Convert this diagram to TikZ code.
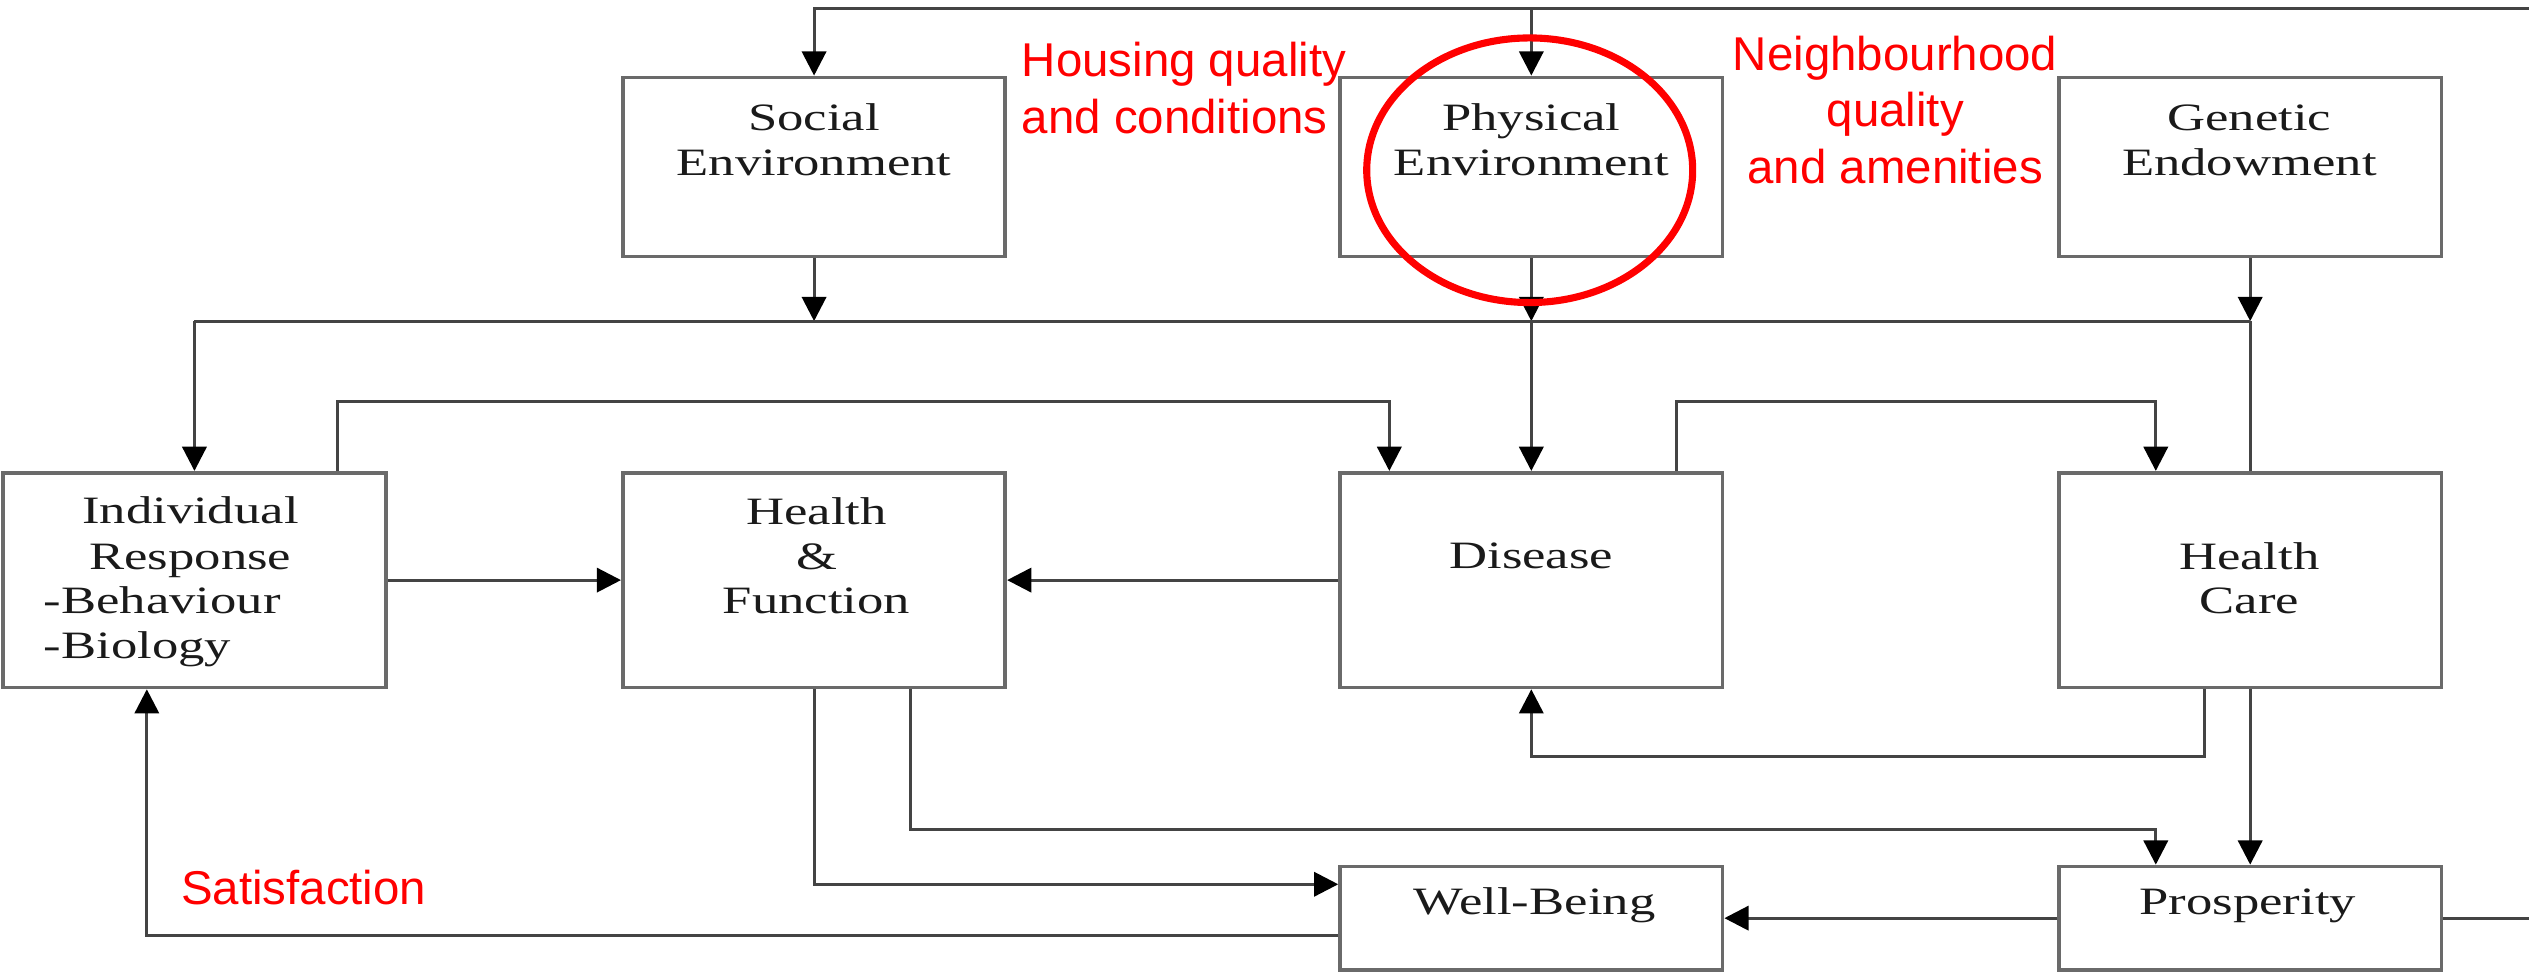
\documentclass[tikz,border=0pt]{standalone}
\usepackage{fontspec}
\usetikzlibrary{arrows.meta,shapes.geometric}
\newfontfamily\boxfont[FakeStretch=1.36]{Liberation Serif}
\newfontfamily\notefont{Liberation Sans}
\definecolor{boxline}{HTML}{6A6A6A}
\definecolor{linkline}{HTML}{444444}
\definecolor{boxtext}{HTML}{1A1A1A}
\definecolor{notered}{HTML}{FF0000}
\tikzset{
  box/.style={draw=boxline, line width=2.3pt, minimum width=237pt, inner sep=0pt},
  conn/.style={draw=linkline, line width=1.9pt},
  arr/.style={conn, -{Triangle[length=15pt,width=15pt,color=black]}},
  lbl/.style={font=\boxfont\fontsize{24}{28}\selectfont, text=boxtext, inner sep=0pt, anchor=base},
  lblL/.style={lbl, anchor=base west},
  note/.style={font=\notefont\fontsize{29.4}{35}\selectfont, text=notered, inner sep=0pt, anchor=base},
  noteL/.style={note, anchor=base west},
  ring/.style={draw=notered, line width=4.4pt, ellipse, minimum width=202pt, minimum height=164pt, inner sep=0pt},
}
\begin{document}
\begin{tikzpicture}[x=1pt,y=-1pt]
\useasboundingbox (0,0) rectangle (1567.3,603);
\fill[white] (0,0) rectangle (1567.3,603);

% determinant boxes
\node[box, minimum height=111pt] (soc) at (504.5,103.5) {};
\node[box, minimum height=111pt] (phy) at (949,103.5) {};
\node[box, minimum height=111pt] (gen) at (1394.5,103.5) {};
\node[box, minimum height=133pt] (ind) at (120.5,359.5) {};
\node[box, minimum height=133pt] (hf) at (504.5,359.5) {};
\node[box, minimum height=133pt] (dis) at (949,359.5) {};
\node[box, minimum height=133pt] (hc) at (1394.5,359.5) {};
\node[box, minimum height=64pt] (wb) at (949,569) {};
\node[box, minimum height=64pt] (pro) at (1394.5,569) {};

% routing levels and free ends
\coordinate (topR) at (1567.3,5);
\coordinate (busY) at (0,199);
\coordinate (upY) at (0,249);
\coordinate (fbY) at (0,469);
\coordinate (lowY) at (0,514);
\coordinate (proR) at (1567.3,569);

% feedback from the top rail
\draw[arr] (topR) -| (soc.north);
\draw[arr] (phy.north |- topR) -- (phy.north);

% environment bus
\draw[arr] (soc.south) -- (soc.south |- busY);
\draw[arr] (phy.south) -- (phy.south |- busY);
\draw[arr] (gen.south) -- (gen.south |- busY);
\draw[conn] (ind.north |- busY) -- (gen.south |- busY);
\draw[arr] (ind.north |- busY) -- (ind.north);
\draw[arr] (phy.south |- busY) -- (dis.north);
\draw[conn] (gen.south |- busY) -- (hc.north);

% cross links over the middle row
\draw[arr] ([xshift=88.5pt]ind.north) |- ([xshift=-88pt]dis.north |- upY) -- ([xshift=-88pt]dis.north);
\draw[arr] ([xshift=90pt]dis.north) |- ([xshift=-58.5pt]hc.north |- upY) -- ([xshift=-58.5pt]hc.north);
\draw[arr] (ind.east) -- (hf.west);
\draw[arr] (dis.west) -- (hf.east);

% outcomes
\draw[arr] (hf.south) |- ([yshift=21pt]wb.west);
\draw[arr] ([xshift=59.5pt]hf.south) |- ([xshift=-58.5pt]pro.north |- lowY) -- ([xshift=-58.5pt]pro.north);
\draw[arr] ([xshift=-28.5pt]hc.south) |- (dis.south |- fbY) -- (dis.south);
\draw[arr] (hc.south) -- (pro.north);
\draw[arr] (pro.west) -- (wb.east);
\draw[conn] (pro.east) -- (proR);
\draw[arr] ([yshift=-11pt]wb.west) -| ([xshift=-29.5pt]ind.south);

% box texts
\node[lbl] (socA) at (504.5,80.6) {Social};
\node[lbl] (socB) at (504.5,108.5) {Environment};
\node[lbl] (phyA) at (949,80.6) {Physical};
\node[lbl] (phyB) at (949,108.5) {Environment};
\node[lbl] (genA) at (1394,80.6) {Genetic};
\node[lbl] (genB) at (1394,108.5) {Endowment};
\node[lbl] (indA) at (118,324.5) {Individual};
\node[lbl] (indB) at (118,353) {Response};
\node[lblL] (indC) at (27,380) {-Behaviour};
\node[lblL] (indD) at (27,408) {-Biology};
\node[lbl] (hfA) at (506,325) {Health};
\node[lbl] (hfB) at (506,353) {\&};
\node[lbl] (hfC) at (506,380) {Function};
\node[lbl] (disA) at (949,352) {Disease};
\node[lbl] (hcA) at (1394,353) {Health};
\node[lbl] (hcB) at (1394,380) {Care};
\node[lbl] (wbA) at (951,567) {Well-Being};
\node[lbl] (proA) at (1393,567) {Prosperity};

% annotations
\node[noteL] (houseA) at (633,47.6) {Housing quality};
\node[noteL] (houseB) at (633,83) {and conditions};
\node[note] (neighA) at (1174.5,43.4) {Neighbourhood};
\node[note] (neighB) at (1174.5,78.5) {quality};
\node[note] (neighC) at (1174.5,114) {and amenities};
\node[noteL] (satis) at (112,560.5) {Satisfaction};
\node[ring] (hl) at (948,105.5) {};
\end{tikzpicture}
\end{document}
